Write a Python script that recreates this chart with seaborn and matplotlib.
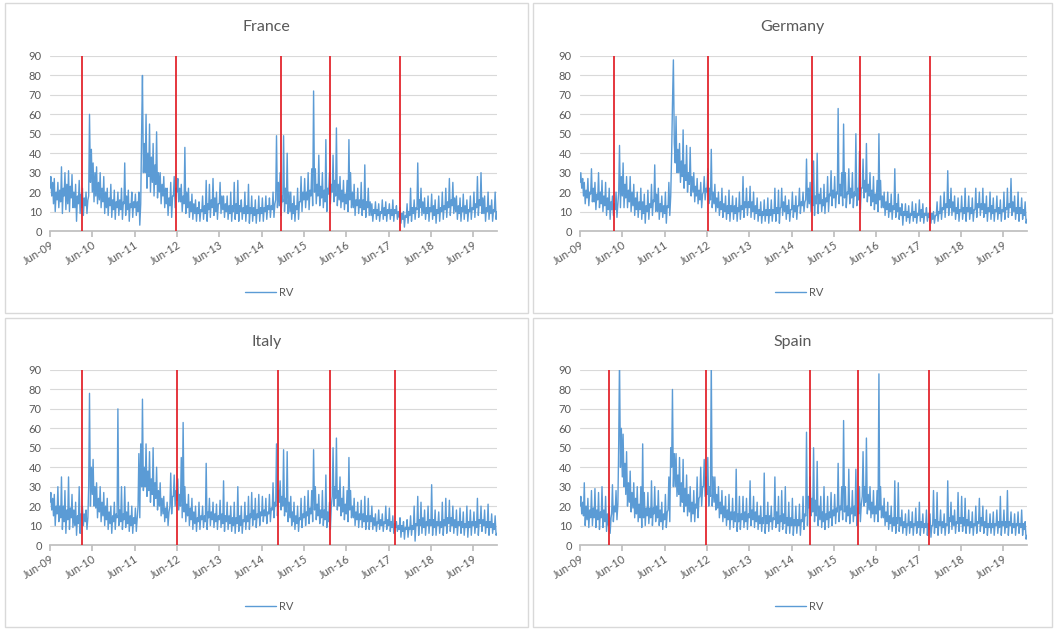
import numpy as np
import pandas as pd
import matplotlib
matplotlib.use('Agg')
import matplotlib.pyplot as plt
import matplotlib.dates as mdates
from matplotlib.patches import Rectangle
import seaborn as sns

# RV readings taken four times a month (1st, 8th, 16th, 24th), Jun-09 .. Dec-19
months = pd.date_range('2009-06-01', '2019-12-01', freq='MS')
dates = pd.DatetimeIndex(sorted(d + pd.Timedelta(days=k) for d in months for k in (0, 7, 15, 23)))

france_rv = [
    # 2009 Jun-Dec
    22, 28, 18, 25, 14, 27, 10, 20, 16, 25, 12, 21, 15, 33, 9, 22, 18, 30, 11, 24, 14, 31, 10, 23, 17, 29, 12, 20,
    # 2010
    12, 24, 5, 18, 14, 26, 9, 19, 12, 22, 8, 17, 13, 20, 9, 16, 18, 60, 25, 42, 20, 35, 15, 30,
    18, 33, 14, 25, 16, 30, 12, 22, 15, 28, 9, 20, 12, 22, 8, 17, 13, 24, 7, 16, 11, 21, 6, 15,
    # 2011
    12, 20, 8, 16, 11, 22, 6, 15, 14, 35, 8, 18, 11, 21, 5, 14, 12, 20, 7, 15, 12, 19, 8, 15,
    10, 20, 3, 14, 52, 80, 30, 45, 30, 60, 22, 40, 28, 55, 20, 38, 25, 45, 18, 34, 24, 51, 17, 30,
    # 2012
    20, 30, 14, 24, 18, 28, 12, 22, 14, 22, 8, 17, 13, 25, 7, 18, 18, 28, 12, 22, 20, 27, 15, 22,
    15, 24, 10, 18, 14, 43, 9, 20, 12, 22, 7, 15, 10, 19, 6, 14, 9, 16, 5, 12, 9, 15, 5, 11,
    # 2013
    10, 18, 6, 13, 9, 26, 5, 14, 11, 24, 7, 16, 12, 27, 8, 17, 10, 20, 6, 14, 14, 25, 9, 18,
    11, 18, 7, 14, 10, 18, 6, 13, 9, 20, 5, 13, 10, 25, 6, 14, 9, 26, 5, 13, 10, 16, 6, 12,
    # 2014
    9, 20, 5, 13, 9, 24, 4, 12, 9, 18, 5, 12, 8, 16, 4, 11, 9, 18, 5, 12, 9, 17, 5, 12,
    10, 18, 6, 13, 11, 17, 7, 13, 11, 20, 7, 14, 16, 49, 12, 25, 13, 30, 8, 18, 15, 49, 10, 22,
    # 2015
    14, 40, 9, 20, 10, 20, 6, 14, 9, 18, 5, 13, 11, 22, 6, 15, 15, 28, 10, 20, 16, 27, 12, 20,
    16, 30, 11, 21, 18, 32, 13, 72, 20, 32, 14, 24, 18, 39, 13, 23, 17, 30, 12, 21, 15, 47, 10, 22,
    # 2016
    19, 30, 14, 24, 20, 39, 15, 26, 18, 53, 13, 24, 16, 28, 12, 21, 15, 26, 11, 19, 14, 26, 10, 47,
    16, 30, 12, 20, 12, 24, 8, 16, 13, 22, 9, 16, 12, 25, 8, 16, 11, 34, 7, 15, 12, 22, 8, 15,
    # 2017
    8, 14, 5, 11, 9, 15, 6, 11, 8, 14, 5, 10, 9, 16, 6, 12, 8, 15, 5, 11, 9, 14, 6, 11,
    8, 16, 5, 11, 9, 13, 6, 10, 7, 12, 4, 9, 6, 10, 2, 8, 7, 14, 4, 10, 8, 22, 5, 12,
    # 2018
    9, 16, 6, 12, 11, 35, 7, 16, 12, 22, 8, 15, 9, 17, 6, 12, 9, 18, 5, 12, 10, 19, 6, 13,
    8, 16, 4, 11, 9, 18, 5, 12, 10, 20, 6, 13, 11, 22, 7, 15, 12, 27, 8, 16, 13, 25, 9, 17,
    # 2019
    10, 18, 6, 13, 9, 17, 5, 12, 10, 19, 6, 13, 9, 16, 5, 11, 10, 18, 6, 12, 11, 20, 7, 14,
    12, 28, 8, 16, 13, 30, 9, 17, 9, 18, 5, 12, 10, 20, 6, 13, 9, 16, 5, 11, 10, 20, 6, 10,
]

germany_rv = [
    25, 30, 22, 27, 18, 25, 14, 21, 17, 27, 13, 20, 19, 32, 15, 22, 15, 25, 11, 19, 16, 30, 12, 20, 14, 26, 10, 18,
    13, 25, 8, 17, 11, 22, 6, 15, 11, 18, 8, 14, 11, 20, 7, 14, 20, 44, 12, 28, 18, 35, 12, 24,
    17, 28, 12, 21, 15, 28, 10, 20, 13, 24, 8, 17, 11, 20, 7, 15, 11, 22, 6, 15, 9, 19, 4, 13,
    10, 21, 6, 14, 12, 24, 8, 16, 15, 34, 10, 19, 10, 22, 6, 14, 10, 18, 7, 13, 9, 20, 4, 13,
    12, 25, 8, 18, 40, 65, 88, 45, 35, 59, 30, 42, 30, 45, 25, 36, 28, 52, 22, 34, 26, 44, 20, 30,
    24, 43, 18, 28, 20, 30, 15, 23, 18, 27, 14, 21, 16, 25, 12, 19, 20, 28, 16, 22, 20, 32, 14, 22,
    16, 42, 12, 20, 14, 24, 10, 17, 12, 20, 8, 15, 11, 22, 7, 14, 10, 18, 6, 13, 9, 21, 5, 13,
    10, 18, 6, 13, 9, 17, 5, 12, 10, 20, 6, 13, 11, 28, 7, 15, 12, 22, 8, 15, 12, 23, 7, 15,
    10, 20, 6, 13, 9, 17, 5, 11, 8, 15, 4, 10, 8, 16, 5, 11, 8, 17, 4, 11, 8, 16, 5, 11,
    9, 22, 5, 12, 9, 21, 4, 12, 12, 22, 8, 15, 10, 18, 6, 13, 9, 16, 5, 11, 11, 20, 7, 13,
    10, 18, 6, 13, 13, 22, 9, 15, 13, 20, 10, 15, 16, 37, 12, 22, 14, 25, 10, 18, 13, 36, 8, 18,
    14, 40, 9, 19, 14, 22, 10, 16, 13, 24, 9, 17, 15, 28, 10, 19, 18, 31, 13, 21, 17, 28, 12, 20,
    19, 63, 14, 24, 18, 30, 13, 55, 17, 30, 12, 20, 19, 32, 14, 22, 17, 30, 12, 20, 18, 50, 13, 22,
    16, 41, 11, 22, 22, 37, 17, 26, 20, 45, 15, 24, 18, 30, 13, 21, 15, 28, 11, 19, 14, 26, 10, 50,
    16, 26, 12, 18, 12, 20, 8, 15, 11, 20, 7, 14, 10, 19, 6, 13, 11, 32, 7, 14, 10, 19, 6, 12,
    8, 14, 3, 10, 8, 14, 5, 10, 7, 13, 4, 9, 8, 15, 5, 10, 7, 14, 4, 9, 8, 16, 5, 11,
    7, 14, 4, 9, 8, 12, 5, 9, 7, 12, 4, 9, 6, 10, 4, 8, 8, 15, 5, 10, 9, 18, 6, 12,
    11, 20, 7, 14, 12, 31, 8, 16, 12, 22, 8, 15, 10, 18, 6, 12, 9, 17, 5, 11, 10, 18, 6, 12,
    9, 22, 5, 12, 10, 18, 6, 12, 9, 17, 5, 11, 11, 22, 7, 14, 12, 20, 8, 14, 11, 22, 7, 14,
    9, 18, 5, 12, 10, 20, 6, 13, 9, 17, 5, 11, 10, 18, 6, 12, 9, 16, 5, 11, 10, 20, 6, 12,
    11, 22, 7, 14, 12, 27, 8, 15, 10, 18, 6, 12, 9, 20, 5, 12, 9, 17, 6, 11, 8, 15, 4, 6,
]

italy_rv = [
    22, 27, 18, 24, 15, 26, 10, 20, 16, 30, 12, 20, 14, 35, 8, 20, 12, 28, 6, 18, 13, 35, 8, 19, 14, 26, 9, 18,
    10, 22, 5, 15, 11, 30, 6, 16, 13, 20, 10, 16, 12, 18, 8, 14, 30, 78, 20, 40, 26, 44, 20, 30,
    19, 32, 14, 24, 17, 30, 12, 22, 15, 27, 10, 20, 13, 24, 8, 17, 11, 20, 6, 15, 12, 22, 8, 16,
    14, 70, 10, 18, 12, 30, 8, 16, 13, 30, 9, 17, 11, 22, 7, 15, 10, 20, 6, 14, 11, 19, 7, 14,
    20, 47, 14, 52, 30, 75, 28, 40, 30, 52, 25, 38, 28, 48, 22, 34, 26, 50, 20, 32, 24, 40, 18, 28,
    20, 32, 15, 24, 16, 25, 12, 19, 14, 22, 10, 17, 20, 37, 16, 25, 25, 36, 20, 28, 23, 34, 18, 26,
    20, 45, 14, 63, 17, 30, 12, 21, 15, 26, 10, 19, 13, 24, 8, 17, 11, 20, 7, 14, 12, 22, 8, 15,
    13, 20, 9, 15, 12, 42, 8, 17, 14, 24, 10, 17, 13, 22, 9, 16, 12, 21, 8, 15, 13, 23, 9, 16,
    11, 33, 7, 15, 12, 22, 8, 15, 11, 20, 7, 14, 10, 22, 6, 14, 11, 30, 7, 15, 10, 20, 6, 13,
    12, 22, 8, 15, 12, 25, 8, 16, 14, 27, 10, 18, 13, 24, 9, 16, 14, 26, 10, 17, 15, 25, 12, 18,
    15, 24, 11, 17, 16, 26, 12, 19, 18, 32, 14, 22, 20, 52, 15, 28, 22, 33, 18, 25, 20, 49, 15, 24,
    17, 48, 12, 22, 14, 25, 10, 17, 12, 22, 8, 15, 11, 20, 7, 14, 13, 24, 9, 16, 14, 25, 10, 17,
    15, 28, 11, 19, 16, 28, 12, 49, 18, 30, 13, 21, 15, 26, 11, 18, 14, 28, 10, 18, 13, 36, 9, 17,
    12, 22, 8, 20, 25, 50, 20, 30, 24, 55, 18, 28, 20, 35, 15, 24, 17, 30, 13, 21, 16, 28, 12, 45,
    18, 28, 14, 20, 14, 24, 10, 17, 13, 22, 9, 16, 13, 23, 9, 16, 12, 25, 8, 15, 12, 24, 8, 15,
    12, 20, 8, 14, 10, 16, 7, 12, 11, 18, 8, 13, 10, 16, 7, 12, 11, 20, 8, 13, 10, 19, 7, 12,
    9, 15, 6, 11, 9, 12, 7, 10, 8, 14, 4, 10, 7, 12, 3, 9, 8, 13, 4, 9, 8, 15, 5, 10,
    8, 20, 2, 11, 10, 25, 5, 13, 10, 22, 6, 14, 9, 18, 5, 12, 10, 20, 6, 13, 10, 31, 5, 13,
    9, 18, 5, 12, 10, 17, 6, 12, 9, 22, 5, 13, 10, 24, 6, 14, 11, 23, 7, 14, 10, 20, 6, 13,
    9, 18, 5, 12, 10, 19, 6, 12, 9, 17, 5, 11, 9, 20, 4, 12, 9, 18, 5, 12, 10, 17, 6, 12,
    9, 24, 5, 13, 11, 20, 7, 13, 10, 18, 6, 12, 9, 21, 5, 12, 9, 16, 6, 11, 8, 15, 5, 6,
]

spain_rv = [
    20, 25, 16, 22, 15, 32, 10, 20, 13, 24, 9, 18, 14, 28, 10, 19, 14, 29, 9, 18, 13, 27, 8, 17, 14, 30, 9, 18,
    12, 25, 7, 16, 10, 20, 6, 14, 16, 31, 12, 20, 17, 28, 13, 21, 52, 96, 40, 60, 35, 57, 30, 42,
    26, 48, 20, 32, 22, 38, 17, 27, 19, 32, 14, 24, 16, 30, 12, 21, 14, 30, 9, 52, 14, 27, 10, 19,
    15, 27, 11, 19, 14, 33, 10, 19, 16, 30, 12, 20, 14, 28, 10, 18, 12, 22, 8, 16, 13, 26, 9, 17,
    18, 35, 12, 50, 40, 80, 30, 47, 30, 47, 25, 36, 26, 45, 20, 32, 22, 44, 17, 29, 20, 36, 15, 26,
    17, 30, 12, 22, 16, 28, 12, 21, 19, 35, 14, 24, 25, 40, 20, 30, 30, 44, 25, 35, 26, 45, 20, 30,
    25, 95, 20, 35, 22, 35, 18, 26, 19, 30, 14, 22, 16, 28, 12, 20, 14, 25, 10, 18, 13, 26, 8, 17,
    13, 24, 9, 17, 12, 39, 7, 16, 12, 25, 8, 16, 13, 25, 9, 17, 12, 24, 8, 16, 14, 33, 10, 18,
    13, 25, 9, 17, 12, 22, 8, 15, 11, 20, 7, 14, 11, 37, 6, 15, 11, 22, 7, 15, 12, 20, 8, 14,
    13, 35, 9, 17, 11, 25, 7, 15, 12, 28, 8, 16, 11, 30, 6, 14, 10, 22, 6, 14, 10, 24, 5, 13,
    10, 20, 6, 13, 10, 21, 5, 13, 12, 25, 8, 16, 15, 58, 10, 25, 19, 35, 15, 24, 17, 50, 12, 23,
    15, 43, 10, 20, 13, 25, 9, 17, 12, 30, 8, 16, 13, 25, 9, 17, 14, 27, 10, 18, 15, 26, 11, 19,
    17, 42, 12, 20, 18, 30, 13, 64, 17, 30, 12, 20, 15, 39, 11, 19, 16, 28, 12, 20, 15, 39, 10, 19,
    16, 30, 12, 21, 25, 48, 20, 30, 22, 55, 16, 26, 18, 30, 14, 22, 16, 28, 12, 20, 16, 28, 12, 88,
    18, 30, 14, 20, 14, 24, 10, 17, 12, 22, 8, 15, 11, 20, 7, 14, 10, 33, 6, 14, 11, 32, 7, 14,
    10, 18, 6, 12, 9, 16, 5, 11, 10, 18, 6, 12, 9, 17, 5, 11, 10, 19, 6, 12, 9, 22, 5, 12,
    9, 16, 6, 11, 9, 18, 5, 11, 8, 16, 4, 10, 10, 28, 6, 13, 9, 27, 5, 12, 10, 18, 6, 12,
    9, 16, 5, 11, 10, 33, 6, 14, 12, 22, 8, 15, 10, 18, 6, 12, 11, 27, 7, 14, 11, 25, 7, 14,
    10, 24, 6, 13, 10, 18, 6, 12, 9, 17, 5, 11, 10, 20, 6, 12, 11, 24, 7, 14, 10, 20, 6, 12,
    9, 18, 5, 11, 9, 16, 6, 11, 9, 17, 5, 11, 10, 18, 6, 12, 9, 25, 5, 12, 10, 18, 6, 12,
    9, 28, 5, 12, 10, 17, 6, 11, 9, 16, 5, 11, 10, 17, 6, 11, 9, 18, 5, 11, 8, 12, 3, 5,
]

# break dates (red lines)
france_breaks = ['2010-02-28', '2012-05-21', '2014-11-18', '2016-01-09', '2017-09-08']
germany_breaks = ['2010-03-20', '2012-06-08', '2014-11-27', '2016-01-14', '2017-09-10']
italy_breaks = ['2010-02-28', '2012-06-01', '2014-10-19', '2016-01-11', '2017-07-30']
spain_breaks = ['2010-02-04', '2012-05-22', '2014-11-10', '2015-12-30', '2017-08-27']

sns.set_theme(style='white')
plt.rcParams['font.family'] = ['Lato', 'DejaVu Sans']

W, H = 1055, 630
fig = plt.figure(figsize=(W / 100, H / 100), dpi=100)

# (name, data, breaks, panel box px, plot area px)
panels = [
    ('France', france_rv, france_breaks, (5, 3, 528, 313), (50, 56, 497, 231)),
    ('Germany', germany_rv, germany_breaks, (533, 3, 1052, 313), (580, 56, 1027, 231)),
    ('Italy', italy_rv, italy_breaks, (5, 318, 528, 627), (50, 370, 497, 545)),
    ('Spain', spain_rv, spain_breaks, (533, 318, 1052, 627), (580, 370, 1027, 545)),
]

grey = '#595959'
for name, vals, breaks, box, area in panels:
    bx0, by0, bx1, by1 = box
    fig.add_artist(Rectangle((bx0 / W, 1 - by1 / H), (bx1 - bx0) / W, (by1 - by0) / H,
                             transform=fig.transFigure, fill=False, ec='#D9D9D9', lw=1))
    fig.text((bx0 + bx1) / 2 / W, 1 - (by0 + 24) / H, name, ha='center', va='center',
             fontsize=11.5, color=grey)

    x0, y0, x1, y1 = area
    ax = fig.add_axes([x0 / W, 1 - y1 / H, (x1 - x0) / W, (y1 - y0) / H])
    df = pd.DataFrame({'date': dates, 'RV': vals})
    sns.lineplot(data=df, x='date', y='RV', ax=ax, color='#5B9BD5', lw=1.0, label='RV')
    ax.vlines(pd.to_datetime(breaks), 0, 90, color='#E3262E', lw=1.3, zorder=4)

    ax.set_xlim(dates[0], dates[-1])
    ax.set_ylim(0, 90)
    ax.set_yticks(range(0, 91, 10))
    ax.xaxis.set_major_locator(mdates.MonthLocator(bymonth=6))
    ax.xaxis.set_major_formatter(mdates.DateFormatter('%b-%y'))
    ax.set_xlabel('')
    ax.set_ylabel('')
    ax.yaxis.grid(True, color='#D9D9D9', lw=0.8)
    ax.set_axisbelow(True)
    for s in ['top', 'right', 'left']:
        ax.spines[s].set_visible(False)
    ax.spines['bottom'].set_color('#BFBFBF')
    ax.tick_params(axis='y', length=0, labelsize=8, labelcolor=grey, pad=6)
    ax.tick_params(axis='x', bottom=True, length=4, color='#BFBFBF', labelsize=8,
                   labelcolor=grey, pad=2)
    for lab in ax.get_xticklabels():
        lab.set_rotation(32)
        lab.set_ha('right')
        lab.set_rotation_mode('anchor')
    ax.legend(loc='center', bbox_to_anchor=(0.49, -0.35), frameon=False, fontsize=8,
              labelcolor=grey, handlelength=2.8, handletextpad=0.3)

fig.savefig('out.png', dpi=100)
